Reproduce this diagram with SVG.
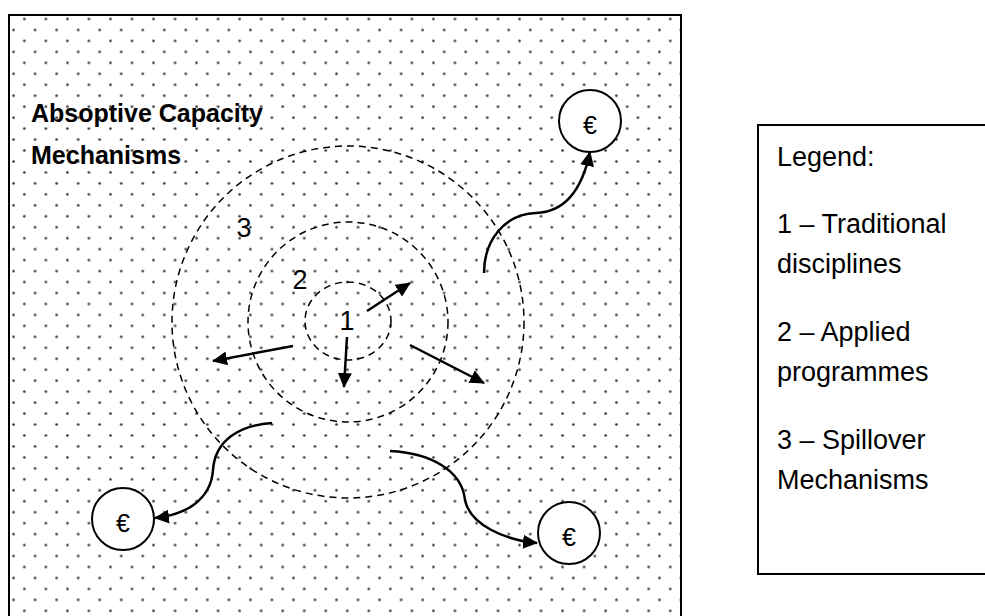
<svg xmlns="http://www.w3.org/2000/svg" width="985" height="616" viewBox="0 0 985 616">
<style>
  .dash { fill: none; stroke: #000; stroke-width: 1.5; stroke-dasharray: 7 5; }
  .arrow { fill: none; stroke: #000; stroke-width: 2.5; marker-end: url(#ah); }
  .txt { font-family: "Liberation Sans", Arial, sans-serif; fill: #000; }
  .num { font-size: 27px; text-anchor: middle; }
  .title { font-size: 25px; font-weight: bold; }
  .leg { font-size: 27px; }
  .eur circle { fill: #fff; stroke: #000; stroke-width: 2; }
  .eur text { font-size: 25px; text-anchor: middle; }
</style>
<defs>
  <pattern id="dots" x="-2.58" y="13.52" width="21.53" height="21.92" patternUnits="userSpaceOnUse">
    <circle cx="5.38" cy="5.48" r="1.3" fill="#333"/>
    <circle cx="16.15" cy="16.44" r="1.3" fill="#333"/>
  </pattern>
  <marker id="ah" markerUnits="userSpaceOnUse" markerWidth="16" markerHeight="14" refX="14" refY="7" orient="auto">
    <path d="M0,0 L15,7 L0,14 z" fill="#000"/>
  </marker>
</defs>
<rect x="0" y="0" width="985" height="616" fill="#fff"/>

<g id="frame">
  <rect x="9" y="15" width="672" height="610" fill="url(#dots)" stroke="#000" stroke-width="2"/>
</g>

<g id="zone3">
  <circle cx="348" cy="322" r="176" fill="#fff" class="dash"/>
  <text class="txt num" x="244" y="237">3</text>
</g>
<g id="zone2">
  <circle cx="348" cy="322" r="100" class="dash"/>
  <text class="txt num" x="300" y="289">2</text>
</g>
<g id="zone1">
  <ellipse cx="348" cy="321" rx="43" ry="39" class="dash"/>
  <text class="txt num" x="347" y="330">1</text>
</g>

<g id="title">
  <text class="txt title" x="31" y="122">Absoptive Capacity</text>
  <text class="txt title" x="31" y="164">Mechanisms</text>
</g>

<g id="connectors">
  <line class="arrow" x1="367" y1="311" x2="410" y2="283"/>
  <line class="arrow" x1="347" y1="337" x2="344" y2="387"/>
  <line class="arrow" x1="293" y1="346" x2="213" y2="361"/>
  <line class="arrow" x1="410" y1="345" x2="484" y2="383"/>
  <path class="arrow" d="M484,273 C484,240 505,214 536,213 C565,212 582,190 590,152"/>
  <path class="arrow" d="M272,423 C240,425 215,440 213,470 C211,500 185,515 155,518"/>
  <path class="arrow" d="M390,451 C430,453 462,470 465,500 C470,525 505,540 537,543"/>
</g>

<g id="euro-top" class="eur">
  <circle cx="590" cy="121" r="31"/>
  <text class="txt" x="590" y="134">€</text>
</g>
<g id="euro-left" class="eur">
  <circle cx="123" cy="519" r="31"/>
  <text class="txt" x="123" y="532">€</text>
</g>
<g id="euro-right" class="eur">
  <circle cx="569" cy="533" r="31"/>
  <text class="txt" x="569" y="546">€</text>
</g>

<g id="legend">
  <rect x="758" y="125" width="240" height="449" fill="#fff" stroke="#000" stroke-width="2"/>
  <text class="txt leg" x="777" y="166">Legend:</text>
  <text class="txt leg" x="777" y="233">1 – Traditional</text>
  <text class="txt leg" x="777" y="273">disciplines</text>
  <text class="txt leg" x="777" y="341">2 – Applied</text>
  <text class="txt leg" x="777" y="381">programmes</text>
  <text class="txt leg" x="777" y="449">3 – Spillover</text>
  <text class="txt leg" x="777" y="489">Mechanisms</text>
</g>
</svg>
